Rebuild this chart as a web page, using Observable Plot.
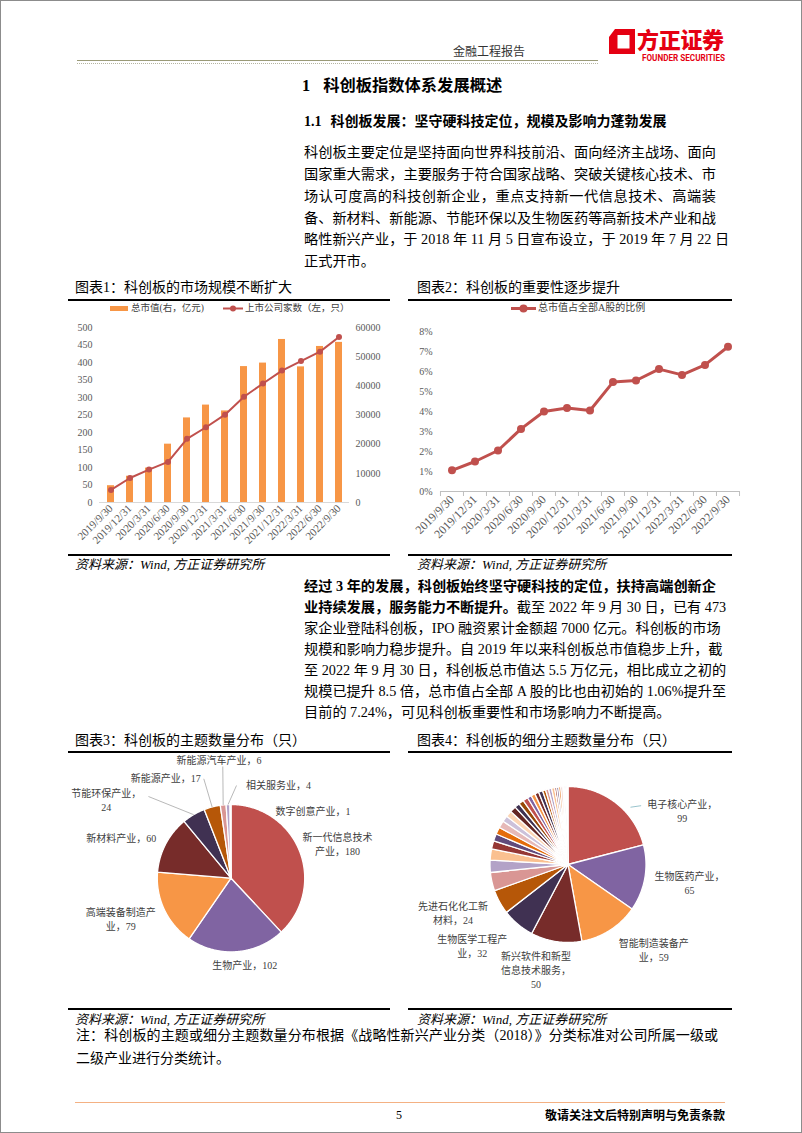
<!DOCTYPE html>
<html><head><meta charset="utf-8">
<script src="https://cdn.jsdelivr.net/npm/d3@7"></script>
<script src="https://cdn.jsdelivr.net/npm/@observablehq/plot@0.6"></script>
<style>
html,body{margin:0;padding:0;background:#fff;}
#page{position:relative;width:802px;height:1133px;overflow:hidden;font-family:"Liberation Serif","Noto Sans CJK SC",serif;color:#000;}
#frame{position:absolute;left:0;top:0;width:800px;height:1131px;border:1px solid #8c8c8c;}
.abs{position:absolute;white-space:nowrap;}
.pl{position:absolute;left:304px;width:412px;white-space:nowrap;text-align:justify;text-align-last:justify;font-size:14.2px;line-height:18px;height:18px;}
.pl.last{text-align-last:left;}
.ttl{position:absolute;font-size:14px;line-height:18px;white-space:nowrap;}
.rule{position:absolute;height:0;border-top:2px solid #000;}
.src{position:absolute;font-size:13px;line-height:16px;font-style:italic;white-space:nowrap;}
.leg{position:absolute;font-size:9.5px;line-height:12px;white-space:nowrap;color:#404040;}
</style></head>
<body>
<div id="page">
  <div id="frame"></div>
  <!-- header -->
  <div class="abs" style="left:453px;top:44px;font-size:12px;line-height:16px;color:#333;">金融工程报告</div>
  <div class="abs" style="left:77px;top:60px;width:521px;border-top:1.5px solid #9a9a78;"></div>
  <div class="abs" style="left:77px;top:63px;width:521px;border-top:1px dotted #b5b5a0;"></div>
  <svg class="abs" style="left:608px;top:29px" width="28" height="25" viewBox="0 0 28 25">
    <path d="M7 0 H27 V25 H1 V8 Z M9.5 6 V19.5 H21.5 V6 Z" fill="#e50012" fill-rule="evenodd"/>
  </svg>
  <div class="abs" style="left:637px;top:24px;font-family:'Noto Sans CJK SC';font-weight:900;font-size:22px;line-height:29px;color:#e50012;letter-spacing:-0.3px;">方正证券</div>
  <svg class="abs" style="left:641px;top:52px;overflow:visible" width="86" height="12"><text x="1" y="8.5" textLength="83" lengthAdjust="spacingAndGlyphs" font-family="Roboto" font-weight="700" font-size="8.5" fill="#e50012">FOUNDER SECURITIES</text></svg>

  <div class="abs" style="left:302px;top:75px;font-size:16.3px;line-height:22px;font-weight:bold;"><span>1</span><span style="margin-left:13px;">科创板指数体系发展概述</span></div>
  <div class="abs" style="left:304px;top:112px;font-size:14px;line-height:19px;font-weight:bold;"><span>1.1</span><span style="margin-left:9px;">科创板发展：坚守硬科技定位，规模及影响力蓬勃发展</span></div>

  <div class="pl" style="top:143px;">科创板主要定位是坚持面向世界科技前沿、面向经济主战场、面向</div>
  <div class="pl" style="top:165px;">国家重大需求，主要服务于符合国家战略、突破关键核心技术、市</div>
  <div class="pl" style="top:187px;">场认可度高的科技创新企业，重点支持新一代信息技术、高端装</div>
  <div class="pl" style="top:208.5px;">备、新材料、新能源、节能环保以及生物医药等高新技术产业和战</div>
  <div class="pl" style="top:230px;">略性新兴产业，于 2018 年 11 月 5 日宣布设立，于 2019 年 7 月 22 日</div>
  <div class="pl last" style="top:252px;">正式开市。</div>

  <!-- chart titles row 1 -->
  <div class="ttl" style="left:75px;top:279px;">图表1：科创板的市场规模不断扩大</div>
  <div class="ttl" style="left:417px;top:279px;">图表2：科创板的重要性逐步提升</div>
  <div class="rule" style="left:68px;top:299px;width:322px;"></div>
  <div class="rule" style="left:408px;top:299px;width:324px;"></div>

  <!-- legends -->
  <div class="abs" style="left:110px;top:306px;width:18px;height:5px;background:#F79646;"></div>
  <div class="leg" style="left:131px;top:302px;">总市值(右，亿元)</div>
  <svg class="abs" style="left:222px;top:304px" width="22" height="9"><line x1="1" y1="4.5" x2="21" y2="4.5" stroke="#C0504D" stroke-width="2"/><circle cx="11" cy="4.5" r="3" fill="#C0504D"/></svg>
  <div class="leg" style="left:245px;top:302px;">上市公司家数（左，只）</div>

  <svg class="abs" style="left:510px;top:303px" width="27" height="11"><line x1="1" y1="5.5" x2="26" y2="5.5" stroke="#C0504D" stroke-width="3"/><circle cx="13.5" cy="5.5" r="4" fill="#C0504D"/></svg>
  <div class="leg" style="left:538px;top:302px;font-size:10px;">总市值占全部A股的比例</div>

  <div class="rule" style="left:68px;top:554px;width:322px;"></div>
  <div class="rule" style="left:408px;top:554px;width:324px;"></div>
  <div class="src" style="left:75px;top:557px;">资料来源：Wind, 方正证券研究所</div>
  <div class="src" style="left:417px;top:557px;">资料来源：Wind, 方正证券研究所</div>

  <div class="pl" style="top:577px;font-weight:bold;">经过 3 年的发展，科创板始终坚守硬科技的定位，扶持高端创新企</div>
  <div class="pl" style="top:598px;"><b>业持续发展，服务能力不断提升。</b>截至 2022 年 9 月 30 日，已有 473</div>
  <div class="pl" style="top:619px;">家企业登陆科创板，IPO 融资累计金额超 7000 亿元。科创板的市场</div>
  <div class="pl" style="top:640px;">规模和影响力稳步提升。自 2019 年以来科创板总市值稳步上升，截</div>
  <div class="pl" style="top:661px;">至 2022 年 9 月 30 日，科创板总市值达 5.5 万亿元，相比成立之初的</div>
  <div class="pl" style="top:682px;">规模已提升 8.5 倍，总市值占全部 A 股的比也由初始的 1.06%提升至</div>
  <div class="pl last" style="top:703px;">目前的 7.24%，可见科创板重要性和市场影响力不断提高。</div>

  <div class="ttl" style="left:75px;top:732px;">图表3：科创板的主题数量分布（只）</div>
  <div class="ttl" style="left:417px;top:732px;">图表4：科创板的细分主题数量分布（只）</div>
  <div class="rule" style="left:68px;top:751px;width:322px;"></div>
  <div class="rule" style="left:408px;top:751px;width:324px;"></div>

  <div class="rule" style="left:68px;top:1008px;width:322px;"></div>
  <div class="rule" style="left:408px;top:1008px;width:324px;"></div>
  <div class="src" style="left:75px;top:1012px;">资料来源：Wind, 方正证券研究所</div>
  <div class="src" style="left:417px;top:1012px;">资料来源：Wind, 方正证券研究所</div>

  <div class="abs" style="left:76px;top:1027px;width:642px;font-size:14px;line-height:18px;text-align:justify;text-align-last:justify;">注：科创板的主题或细分主题数量分布根据《战略性新兴产业分类（2018）》分类标准对公司所属一级或</div>
  <div class="abs" style="left:76px;top:1050px;font-size:14px;line-height:18px;">二级产业进行分类统计。</div>

  <div class="abs" style="left:75px;top:1102px;width:650px;border-top:1.5px solid #F4B183;"></div>
  <div class="abs" style="left:396px;top:1107px;font-size:12px;line-height:16px;">5</div>
  <div class="abs" style="left:545px;top:1107px;font-family:'Noto Sans CJK SC';font-weight:bold;font-size:12px;line-height:16px;">敬请关注文后特别声明与免责条款</div>
</div>

<script>
// ---------------- DATA ----------------
const dates = ["2019/9/30","2019/12/31","2020/3/31","2020/6/30","2020/9/30","2020/12/31","2021/3/31","2021/6/30","2021/9/30","2021/12/31","2022/3/31","2022/6/30","2022/9/30"];
// 总市值（亿元，右轴）
const marketCap = [5760, 9000, 11800, 20000, 29000, 33400, 31400, 46600, 47800, 55900, 46500, 53500, 54900];
// 上市公司家数（只，左轴）
const companies = [36, 70, 94, 116, 182, 215, 251, 302, 340, 377, 404, 431, 473];
const leftTicks = [0, 50, 100, 150, 200, 250, 300, 350, 400, 450, 500];
const rightTicks = [0, 10000, 20000, 30000, 40000, 50000, 60000];
// 总市值占全部A股的比例（%）
const shareOfA = [1.06, 1.50, 2.05, 3.13, 4.00, 4.17, 4.05, 5.47, 5.55, 6.12, 5.83, 6.33, 7.24];
const pctTicks = [0, 1, 2, 3, 4, 5, 6, 7, 8];

// 图表3：主题数量分布
const themeNames = ["新一代信息技术产业","生物产业","高端装备制造产业","新材料产业","节能环保产业","新能源产业","新能源汽车产业","相关服务业","数字创意产业"];
const themeValues = [180, 102, 79, 60, 24, 17, 6, 4, 1];

// 图表4：细分主题数量分布
const subNames = ["电子核心产业","生物医药产业","智能制造装备产业","新兴软件和新型信息技术服务","生物医学工程产业","先进石化化工新材料",
  "下一代信息网络产业","先进无机非金属材料","互联网与云计算、大数据服务","高效节能产业","前沿新材料","太阳能产业","先进环保产业",
  "人工智能","航空装备产业","先进有色金属材料","新能源汽车装置、配件制造","卫星及应用产业","高性能纤维及制品和复合材料",
  "轨道交通装备产业","智能电网产业","资源循环利用产业","新技术与创新创业服务","生物农业及相关产业","风能产业","新材料相关服务",
  "海洋工程装备产业","核电产业","数字创意技术设备制造","新能源汽车整车制造","先进钢铁材料","其他生物业","设计服务",
  "生物质能及其他新能源产业","新能源汽车相关设施制造","其他相关服务"];
const subValues = [99, 65, 59, 50, 32, 24, 18, 12, 11, 8, 7, 7, 7, 6, 6, 6, 5, 5, 5, 4, 4, 4, 4, 3, 3, 3, 3, 2, 2, 2, 2, 1, 1, 1, 1, 1];

// ---------------- STYLE / LAYOUT ----------------
const pieColors = ["#C0504D","#8064A2","#F79646","#772C2A","#403152","#B65708","#D99694","#B3A2C7","#FAC090",
  "#953735","#604A7B","#E46C0A","#E6B9B8","#CCC1DA","#FCD5B5","#632523","#3F3151","#974806"];
const capRatio = 120; // 右轴 60000 对应左轴 500
const serif = '"Liberation Serif","Noto Sans CJK SC",serif';
const page = document.getElementById("page");
function place(node, left, top) {
  const d = document.createElement("div");
  d.style.cssText = `position:absolute;left:${left}px;top:${top}px;`;
  d.appendChild(node);
  page.appendChild(d);
}

// ---------------- CHART 1 ----------------
const rows1 = dates.map((d, i) => ({date: d, cap: marketCap[i] / capRatio, n: companies[i]}));
const chart1 = Plot.plot({
  width: 330, height: 239,
  marginLeft: 39, marginRight: 41, marginTop: 9, marginBottom: 55,
  style: {fontFamily: serif, fontSize: "10px", color: "#595959", overflow: "visible", background: "transparent"},
  x: {type: "band", domain: dates, paddingInner: 0.64, paddingOuter: 0.31, label: null},
  y: {domain: [0, 500], label: null},
  marks: [
    Plot.barY(rows1, {x: "date", y: "cap", fill: "#F79646"}),
    Plot.ruleY([0], {stroke: "#d9d9d9"}),
    Plot.line(rows1, {x: "date", y: "n", stroke: "#C0504D", strokeWidth: 2}),
    Plot.dot(rows1, {x: "date", y: "n", fill: "#C0504D", r: 3}),
    Plot.axisY({ticks: leftTicks, tickSize: 0, tickPadding: 7, label: null}),
    Plot.axisY({anchor: "right", ticks: rightTicks.map(v => v / capRatio), tickFormat: v => String(Math.round(v * capRatio)), tickSize: 0, tickPadding: 6, label: null}),
    Plot.axisX({tickRotate: -45, tickSize: 0, tickPadding: 4, label: null, fontSize: 11, letterSpacing: 0.4})
  ]
});
place(chart1, 60, 318);

// ---------------- CHART 2 ----------------
const rows2 = dates.map((d, i) => ({date: d, v: shareOfA[i]}));
const w2 = 345, ml2 = 40, mr2 = 5.4;
const half2 = (w2 - ml2 - mr2) / dates.length / 2;
const chart2 = Plot.plot({
  width: w2, height: 233,
  marginLeft: ml2, marginRight: mr2, marginTop: 13, marginBottom: 60,
  style: {fontFamily: serif, fontSize: "10px", color: "#595959", overflow: "visible", background: "transparent"},
  x: {type: "band", domain: dates, padding: 0, label: null},
  y: {domain: [0, 8], label: null},
  marks: [
    Plot.ruleY([0], {stroke: "#bfbfbf"}),
    Plot.axisX({tickSize: 5, fill: "none", stroke: "#bfbfbf", dx: -half2, label: null}),
    Plot.axisX({ticks: [dates[dates.length - 1]], tickSize: 5, fill: "none", stroke: "#bfbfbf", dx: half2, label: null}),
    Plot.line(rows2, {x: "date", y: "v", stroke: "#C0504D", strokeWidth: 3}),
    Plot.dot(rows2, {x: "date", y: "v", fill: "#C0504D", r: 4}),
    Plot.axisY({ticks: pctTicks, tickFormat: d => d + "%", tickSize: 0, tickPadding: 8, label: null}),
    Plot.axisX({tickRotate: -45, tickSize: 0, tickPadding: 6, label: null, fontSize: 12, letterSpacing: 0.4})
  ]
});
place(chart2, 400, 318);

// ---------------- PIES ----------------
const rad = deg => deg * Math.PI / 180;
const polar = (deg, r) => [Math.sin(rad(deg)) * r, -Math.cos(rad(deg)) * r];
const unitSquare = {type: "Polygon", coordinates: [[[-1, -1], [1, -1], [1, 1], [-1, 1], [-1, -1]]]};
function wrapText(s, n) { return s.match(new RegExp(`.{1,${n}}`, "gu")).join("\n"); }

function pieChart({names, values, labels, leaders, width, height, margins, leaderColor}) {
  const arcs = d3.pie().sort(null).value(d => d)(values);
  const slices = arcs.map((a, i) => {
    const n = Math.max(2, Math.ceil((a.endAngle - a.startAngle) / 0.01));
    const ring = [[0, 0]];
    for (let k = 0; k <= n; k++) {
      const t = a.startAngle + (a.endAngle - a.startAngle) * k / n;
      ring.push([Math.sin(t), -Math.cos(t)]);
    }
    ring.push([0, 0]);
    return {type: "Feature", properties: {name: names[i], value: values[i], color: pieColors[i % pieColors.length]},
      geometry: {type: "Polygon", coordinates: [ring]}};
  });
  const midDeg = name => { const i = names.indexOf(name); return (arcs[i].startAngle + arcs[i].endAngle) / 2 * 180 / Math.PI; };
  const labelRows = labels.map(l => {
    const i = names.indexOf(l.name);
    const [x, y] = polar(l.angle, l.dist);
    return {x, y, text: wrapText(`${names[i]}，${values[i]}`, l.wrap)};
  });
  const leaderRows = leaders.map(l => {
    const [x1, y1] = l.from ? polar(l.from[0], l.from[1]) : polar(midDeg(l.name), 1.0);
    const [x2, y2] = polar(l.to[0], l.to[1]);
    return {x1, y1, x2, y2};
  });
  return Plot.plot({
    width, height,
    marginLeft: margins[0], marginRight: margins[1], marginTop: margins[2], marginBottom: margins[3],
    projection: {type: "identity", domain: unitSquare, clip: false},
    color: {type: "identity"},
    style: {fontFamily: serif, fontSize: "10px", color: "#404040", overflow: "visible", background: "transparent"},
    marks: [
      Plot.geo(slices, {fill: d => d.properties.color, stroke: "#fff", strokeWidth: 1.3}),
      Plot.link(leaderRows, {x1: "x1", y1: "y1", x2: "x2", y2: "y2", stroke: leaderColor, strokeWidth: 0.8}),
      Plot.text(labelRows, {x: "x", y: "y", text: "text", fill: "#404040", lineHeight: 1.4, fontSize: 10})
    ]
  });
}

const pie3Labels = [
  {name: "新一代信息技术产业", angle: 72.0, dist: 1.52, wrap: 7},
  {name: "生物产业", angle: 170.9, dist: 1.18, wrap: 20},
  {name: "高端装备制造产业", angle: 250.1, dist: 1.59, wrap: 7},
  {name: "新材料产业", angle: 290.4, dist: 1.59, wrap: 20},
  {name: "节能环保产业", angle: 302.1, dist: 2.0, wrap: 7},
  {name: "新能源产业", angle: 327.1, dist: 1.63, wrap: 20},
  {name: "新能源汽车产业", angle: 354.2, dist: 1.62, wrap: 20},
  {name: "相关服务业", angle: 26.8, dist: 1.43, wrap: 20},
  {name: "数字创意产业", angle: 50.6, dist: 1.44, wrap: 20}
];
const pie3Leaders = [
  {name: "节能环保产业", to: [314.7, 1.576]},
  {name: "新能源产业", to: [344.7, 1.398]},
  {name: "新能源汽车产业", to: [355.8, 1.52]},
  {name: "相关服务业", to: [3.4, 1.26]}
];
const pie3 = pieChart({names: themeNames, values: themeValues, labels: pie3Labels, leaders: pie3Leaders,
  width: 322, height: 255, margins: [88.8, 85.8, 52, 55.6], leaderColor: "#a6a6a6"});
place(pie3, 68, 752);

const pie4Labels = [
  {name: "电子核心产业", angle: 64.9, dist: 1.617, wrap: 7},
  {name: "生物医药产业", angle: 98.3, dist: 1.574, wrap: 7},
  {name: "智能制造装备产业", angle: 134.8, dist: 1.55, wrap: 7},
  {name: "新兴软件和新型信息技术服务", angle: 196.9, dist: 1.41, wrap: 7},
  {name: "生物医学工程产业", angle: 229.9, dist: 1.606, wrap: 7},
  {name: "先进石化化工新材料", angle: 247.2, dist: 1.599, wrap: 7}
];
const pie4Leaders = [
  {name: "电子核心产业", from: [47.5, 1.087], to: [51.2, 1.203]}
];
const pie4 = pieChart({names: subNames, values: subValues, labels: pie4Labels, leaders: pie4Leaders,
  width: 324, height: 255, margins: [81.5, 86.5, 34, 65], leaderColor: "#7fb5c0"});
place(pie4, 408, 752);
</script>
</body></html>
